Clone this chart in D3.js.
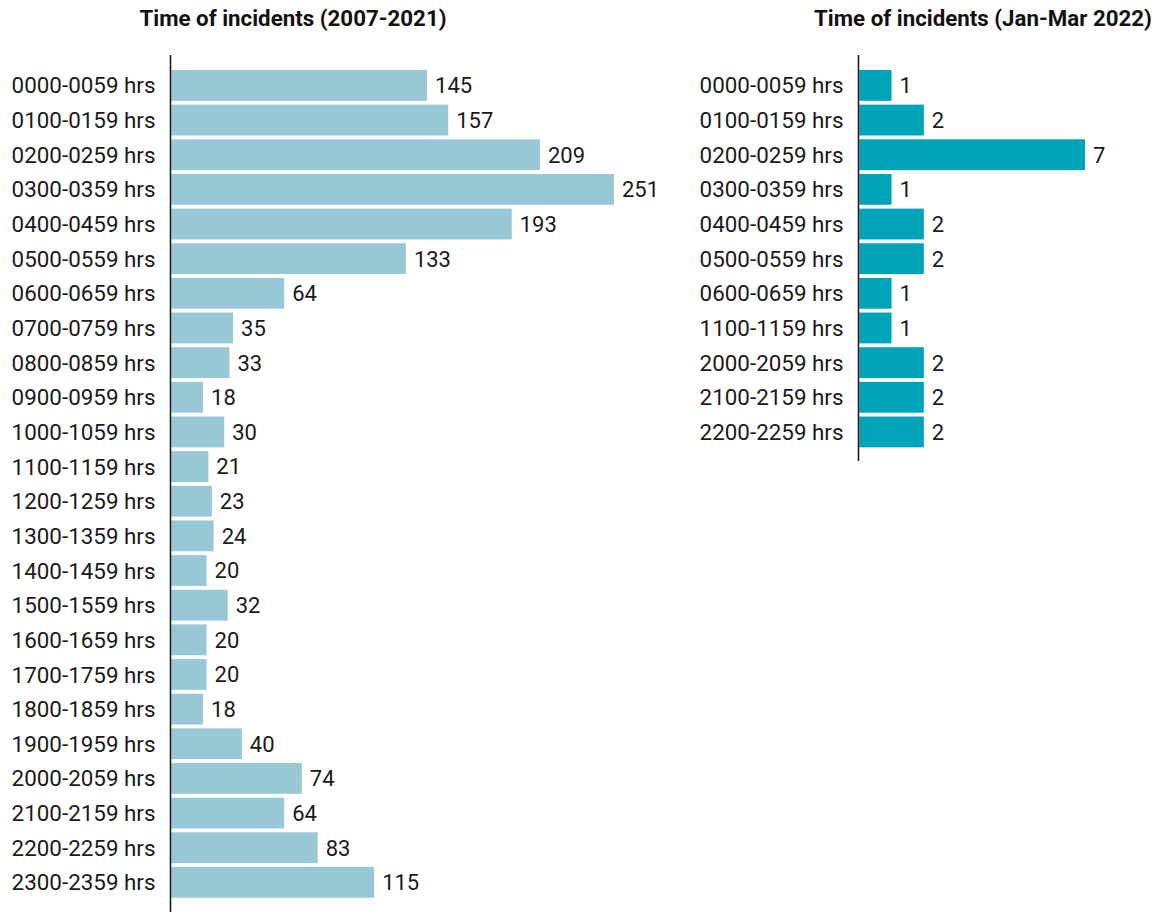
<!DOCTYPE html>
<html>
<head>
<meta charset="utf-8">
<script src="https://cdn.jsdelivr.net/npm/d3@7"></script>
<style>
  html, body { margin: 0; padding: 0; background: #fff; }
  svg { display: block; font-family: Roboto, "Noto Sans", sans-serif; }
</style>
</head>
<body>
<svg id="chart" width="1159" height="912"></svg>
<script>
// Incident counts by hour-of-day band
const hoursAll = [
  "0000-0059 hrs", "0100-0159 hrs", "0200-0259 hrs", "0300-0359 hrs",
  "0400-0459 hrs", "0500-0559 hrs", "0600-0659 hrs", "0700-0759 hrs",
  "0800-0859 hrs", "0900-0959 hrs", "1000-1059 hrs", "1100-1159 hrs",
  "1200-1259 hrs", "1300-1359 hrs", "1400-1459 hrs", "1500-1559 hrs",
  "1600-1659 hrs", "1700-1759 hrs", "1800-1859 hrs", "1900-1959 hrs",
  "2000-2059 hrs", "2100-2159 hrs", "2200-2259 hrs", "2300-2359 hrs"
];
const counts2007to2021 = [
  145, 157, 209, 251, 193, 133, 64, 35, 33, 18, 30, 21,
  23, 24, 20, 32, 20, 20, 18, 40, 74, 64, 83, 115
];

const hours2022 = [
  "0000-0059 hrs", "0100-0159 hrs", "0200-0259 hrs", "0300-0359 hrs",
  "0400-0459 hrs", "0500-0559 hrs", "0600-0659 hrs", "1100-1159 hrs",
  "2000-2059 hrs", "2100-2159 hrs", "2200-2259 hrs"
];
const counts2022 = [1, 2, 7, 1, 2, 2, 1, 1, 2, 2, 2];

const titles = ["Time of incidents (2007-2021)", "Time of incidents (Jan-Mar 2022)"];

const svg = d3.select("#chart");
const rowStep = 34.65;
const plotTop = 70;

function drawPanel(cfg) {
  const g = svg.append("g");
  const n = cfg.cats.length;
  const y = d3.scaleBand()
    .domain(cfg.cats)
    .range([plotTop, plotTop + n * rowStep - rowStep * 0.11])
    .paddingInner(0.11)
    .paddingOuter(0);
  const x = d3.scaleLinear()
    .domain([0, d3.max(cfg.values)])
    .range([cfg.x0, cfg.x1]);

  const rows = cfg.cats.map((c, i) => ({ c, v: cfg.values[i] }));

  g.selectAll("rect.bar").data(rows).join("rect")
    .attr("class", "bar")
    .attr("x", x(0))
    .attr("y", d => y(d.c))
    .attr("width", d => x(d.v) - x(0))
    .attr("height", y.bandwidth())
    .attr("fill", cfg.color);

  g.selectAll("text.cat").data(rows).join("text")
    .attr("class", "cat")
    .attr("x", cfg.labelRight)
    .attr("y", d => y(d.c) + y.bandwidth() / 2)
    .attr("dy", "0.36em")
    .attr("text-anchor", "end")
    .attr("font-size", 22.4)
    .attr("fill", "#1a1a1a")
    .text(d => d.c);

  g.selectAll("text.val").data(rows).join("text")
    .attr("class", "val")
    .attr("x", d => x(d.v) + 8)
    .attr("y", d => y(d.c) + y.bandwidth() / 2)
    .attr("dy", "0.36em")
    .attr("font-size", 22)
    .attr("fill", "#1a1a1a")
    .text(d => d.v);

  // vertical baseline
  g.append("line")
    .attr("x1", x(0) - 0.8).attr("x2", x(0) - 0.8)
    .attr("y1", 55).attr("y2", cfg.axisBottom)
    .attr("stroke", "#111").attr("stroke-width", 1.5);

  svg.append("text")
    .attr("x", cfg.titleX)
    .attr("y", 25.5)
    .attr("text-anchor", "middle")
    .attr("font-size", 22.3)
    .attr("font-weight", 700)
    .attr("fill", "#111")
    .text(cfg.title);
}

drawPanel({
  cats: hoursAll, values: counts2007to2021, color: "#98c8d6",
  x0: 171.3, x1: 614, labelRight: 155.5, axisBottom: 912,
  title: titles[0], titleX: 293
});

drawPanel({
  cats: hours2022, values: counts2022, color: "#00a4b9",
  x0: 859.3, x1: 1085, labelRight: 843.5, axisBottom: 461,
  title: titles[1], titleX: 983
});
</script>
</body>
</html>
